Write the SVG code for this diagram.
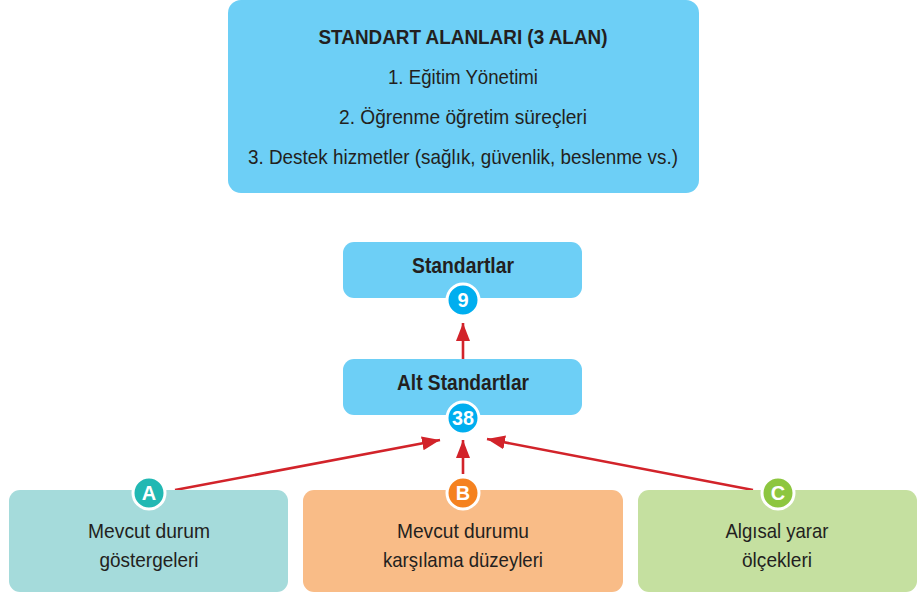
<svg xmlns="http://www.w3.org/2000/svg" width="921" height="598" viewBox="0 0 921 598">
<defs>
<style>
.t{font-family:"Liberation Sans",Arial,sans-serif;fill:#231f20;text-anchor:middle}
.r{font-size:21px}
.b{font-size:21px;font-weight:bold}
.b2{font-size:22px;font-weight:bold}
.badge{stroke:#fff;stroke-width:3}
.bt{font-family:"Liberation Sans",Arial,sans-serif;fill:#fff;font-weight:bold;font-size:20px;text-anchor:middle}
.arr{stroke:#d2232a;stroke-width:2.6;fill:none;marker-end:url(#ah)}
</style>
<marker id="ah" markerUnits="userSpaceOnUse" markerWidth="20" markerHeight="14" refX="18" refY="7" orient="auto">
<path d="M0,0 L18,7 L0,14 Z" fill="#d2232a"/>
</marker>
</defs>
<rect width="921" height="598" fill="#fff"/>

<g id="alanlar">
<rect x="228" y="0" width="471" height="193" rx="13" fill="#6dcff6"/>
<text class="t b" x="463" y="44" textLength="289" lengthAdjust="spacingAndGlyphs">STANDART ALANLARI (3 ALAN)</text>
<text class="t r" x="463" y="84" textLength="150" lengthAdjust="spacingAndGlyphs">1. Eğitim Yönetimi</text>
<text class="t r" x="463" y="124" textLength="248" lengthAdjust="spacingAndGlyphs">2. Öğrenme öğretim süreçleri</text>
<text class="t r" x="463" y="164" textLength="430" lengthAdjust="spacingAndGlyphs">3. Destek hizmetler (sağlık, güvenlik, beslenme vs.)</text>
</g>

<g id="connectors">
<line class="arr" x1="463" y1="359" x2="463" y2="323"/>
<line class="arr" x1="175" y1="490" x2="440" y2="440"/>
<line class="arr" x1="463" y1="474" x2="463" y2="440"/>
<line class="arr" x1="753" y1="490" x2="487" y2="439"/>
</g>

<g id="standartlar">
<rect x="343" y="242" width="239" height="56" rx="11" fill="#6dcff6"/>
<text class="t b2" x="463" y="273" textLength="102" lengthAdjust="spacingAndGlyphs">Standartlar</text>
<circle class="badge" cx="463" cy="300" r="16" fill="#00aeef"/>
<text class="bt" x="463" y="307">9</text>
</g>

<g id="alt-standartlar">
<rect x="343" y="359" width="239" height="56" rx="11" fill="#6dcff6"/>
<text class="t b2" x="463" y="390" textLength="132" lengthAdjust="spacingAndGlyphs">Alt Standartlar</text>
<circle class="badge" cx="463" cy="418" r="16" fill="#00aeef"/>
<text class="bt" x="463" y="425" textLength="22" lengthAdjust="spacingAndGlyphs">38</text>
</g>

<g id="a">
<rect x="9" y="490" width="279" height="102" rx="11" fill="#a5dbdb"/>
<circle class="badge" cx="149" cy="493" r="16" fill="#22b8b3"/>
<text class="bt" x="149" y="500">A</text>
<text class="t r" x="149" y="538" textLength="122" lengthAdjust="spacingAndGlyphs">Mevcut durum</text>
<text class="t r" x="149" y="567" textLength="99" lengthAdjust="spacingAndGlyphs">göstergeleri</text>
</g>

<g id="b">
<rect x="303" y="490" width="320" height="102" rx="11" fill="#f9bc87"/>
<circle class="badge" cx="463" cy="493" r="16" fill="#f58220"/>
<text class="bt" x="463" y="500">B</text>
<text class="t r" x="463" y="538" textLength="132" lengthAdjust="spacingAndGlyphs">Mevcut durumu</text>
<text class="t r" x="463" y="567" textLength="160" lengthAdjust="spacingAndGlyphs">karşılama düzeyleri</text>
</g>

<g id="c">
<rect x="638" y="490" width="279" height="102" rx="11" fill="#c5e0a0"/>
<circle class="badge" cx="778" cy="493" r="16" fill="#8dc63f"/>
<text class="bt" x="778" y="500">C</text>
<text class="t r" x="777" y="538" textLength="103" lengthAdjust="spacingAndGlyphs">Algısal yarar</text>
<text class="t r" x="777" y="567" textLength="70" lengthAdjust="spacingAndGlyphs">ölçekleri</text>
</g>
</svg>
